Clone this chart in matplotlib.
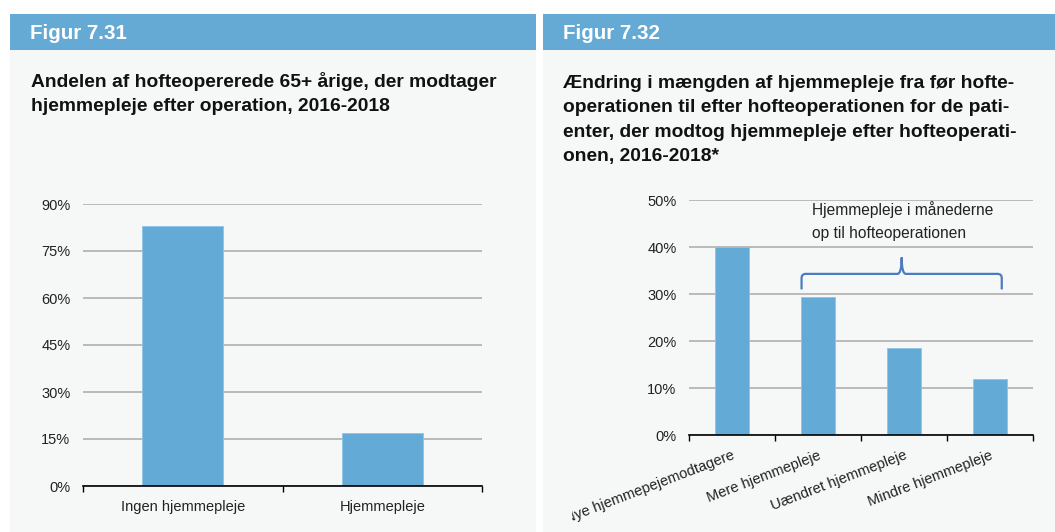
import matplotlib
matplotlib.use("Agg")
import matplotlib.pyplot as plt
from matplotlib.patches import Rectangle, PathPatch
from matplotlib.path import Path
from matplotlib.transforms import Bbox, TransformedBbox
from matplotlib.ticker import FuncFormatter

plt.rcParams['font.family'] = ['Liberation Sans', 'DejaVu Sans']

# ---- data ----
left_categories = ["Ingen hjemmepleje", "Hjemmepleje"]
left_values = [83, 17]
left_yticks = [0, 15, 30, 45, 60, 75, 90]

right_categories = ["Nye hjemmepejemodtagere", "Mere hjemmepleje",
                    "Uændret hjemmepleje", "Mindre hjemmepleje"]
right_values = [40, 29.4, 18.6, 12.0]
right_yticks = [0, 10, 20, 30, 40, 50]

left_header = "Figur 7.31"
right_header = "Figur 7.32"
left_title = ["Andelen af hofteopererede 65+ årige, der modtager",
              "hjemmepleje efter operation, 2016-2018"]
right_title = ["Ændring i mængden af hjemmepleje fra før hofte-",
               "operationen til efter hofteoperationen for de pati-",
               "enter, der modtog hjemmepleje efter hofteoperati-",
               "onen, 2016-2018*"]
annotation_lines = ["Hjemmepleje i månederne", "op til hofteoperationen"]

# ---- style ----
W, H = 1055, 532
HEADER = "#64aad5"
PANEL = "#f6f7f7"
BAR = "#64aad6"
GRID = "#b0b0b0"
BRACE = "#4a7dc0"

fig = plt.figure(figsize=(W / 100, H / 100), dpi=100)
fig.patch.set_facecolor("white")


def frect(x0, y0, x1, y1):
    return [x0 / W, 1 - y1 / H, (x1 - x0) / W, (y1 - y0) / H]


def fx(x):
    return x / W


def fy(y):
    return 1 - y / H


# panels
for (x0, x1) in [(10, 536), (543, 1055)]:
    fig.add_artist(Rectangle((fx(x0), fy(532)), (x1 - x0) / W, (532 - 50) / H,
                             transform=fig.transFigure, facecolor=PANEL,
                             edgecolor="none", zorder=-10))
    fig.add_artist(Rectangle((fx(x0), fy(50)), (x1 - x0) / W, 36 / H,
                             transform=fig.transFigure, facecolor=HEADER,
                             edgecolor="none", zorder=-9))

fig.text(fx(30), fy(39), left_header, color="white", fontsize=14.8,
         fontweight="bold", va="baseline", ha="left")
fig.text(fx(563), fy(39), right_header, color="white", fontsize=14.8,
         fontweight="bold", va="baseline", ha="left")

for i, line in enumerate(left_title):
    fig.text(fx(31), fy(86.7 + 24 * i), line, fontsize=13.9, fontweight="bold",
             va="baseline", ha="left", color="#111111")
for i, line in enumerate(right_title):
    fig.text(fx(563), fy(88 + 24.5 * i), line, fontsize=13.9, fontweight="bold",
             va="baseline", ha="left", color="#111111")

pct = FuncFormatter(lambda v, p: f"{v:.0f}%")


def style_axes(ax, yticks, ncat):
    ax.set_facecolor("none")
    ax.set_ylim(yticks[0], yticks[-1])
    ax.set_xlim(-0.5, ncat - 0.5)
    ax.set_yticks(yticks)
    ax.yaxis.set_major_formatter(pct)
    ax.grid(axis="y", color=GRID, linewidth=1.2)
    ax.set_axisbelow(True)
    for s in ["left", "right", "top"]:
        ax.spines[s].set_visible(False)
    ax.spines["bottom"].set_color("black")
    ax.spines["bottom"].set_linewidth(1.2)
    ax.spines["bottom"].set_zorder(5)
    ax.tick_params(axis="y", length=0, pad=9, labelsize=10.5, labelcolor="#222222")
    ax.set_xticks([i - 0.5 for i in range(ncat + 1)], minor=True)
    ax.tick_params(axis="x", which="minor", length=4, width=1, color="black",
                   direction="out")
    ax.tick_params(axis="x", which="major", length=0, labelsize=10.5,
                   labelcolor="#222222")


# left chart
axL = fig.add_axes(frect(83, 204, 482, 486))
style_axes(axL, left_yticks, len(left_categories))
axL.bar(range(len(left_values)), left_values, width=0.405, color=BAR,
        edgecolor="#8ec4e6", linewidth=0.6, zorder=3)
axL.set_xticks(range(len(left_categories)))
axL.set_xticklabels(left_categories)
axL.tick_params(axis="x", which="major", pad=10)

# right chart
axR = fig.add_axes(frect(689, 200, 1032.7, 435.3))
style_axes(axR, right_yticks, len(right_categories))
axR.bar(range(len(right_values)), right_values, width=0.4, color=BAR,
        edgecolor="#8ec4e6", linewidth=0.6, zorder=3)
axR.set_xticks(range(len(right_categories)))
axR.set_xticklabels(right_categories, rotation=21, ha="right",
                    rotation_mode="anchor", va="top")
axR.tick_params(axis="x", which="major", pad=9.5)

# annotation text
for i, line in enumerate(annotation_lines):
    fig.text(fx(811.7), fy(215 + 23.3 * i), line, fontsize=11.2,
             va="baseline", ha="left", color="#222222")

# brace (data coords)
x0, x1 = 0.81, 3.14
xm = (x0 + x1) / 2
ybase, yline, ytip = 31.0, 34.3, 37.8
rx, ry = 0.05, 0.9
verts = [
    (x0, ybase), (x0, yline - ry),
    (x0, yline), (x0 + rx, yline),
    (xm - rx, yline),
    (xm, yline), (xm, ytip),
    (xm, yline), (xm + rx, yline),
    (x1 - rx, yline),
    (x1, yline), (x1, yline - ry),
    (x1, ybase),
]
codes = [Path.MOVETO, Path.LINETO,
         Path.CURVE3, Path.CURVE3,
         Path.LINETO,
         Path.CURVE3, Path.CURVE3,
         Path.CURVE3, Path.CURVE3,
         Path.LINETO,
         Path.CURVE3, Path.CURVE3,
         Path.LINETO]
axR.add_patch(PathPatch(Path(verts, codes), facecolor="none", edgecolor=BRACE,
                        linewidth=1.6, zorder=4, clip_on=False))

# clip the rotated labels at the left edge of the drawing area
fig.canvas.draw()
clip = TransformedBbox(Bbox([[fx(572), 0], [1, 1]]), fig.transFigure)
for lab in axR.get_xticklabels():
    lab.set_clip_box(clip)
    lab.set_clip_on(True)

fig.savefig("out.png", dpi=100, facecolor="white")
